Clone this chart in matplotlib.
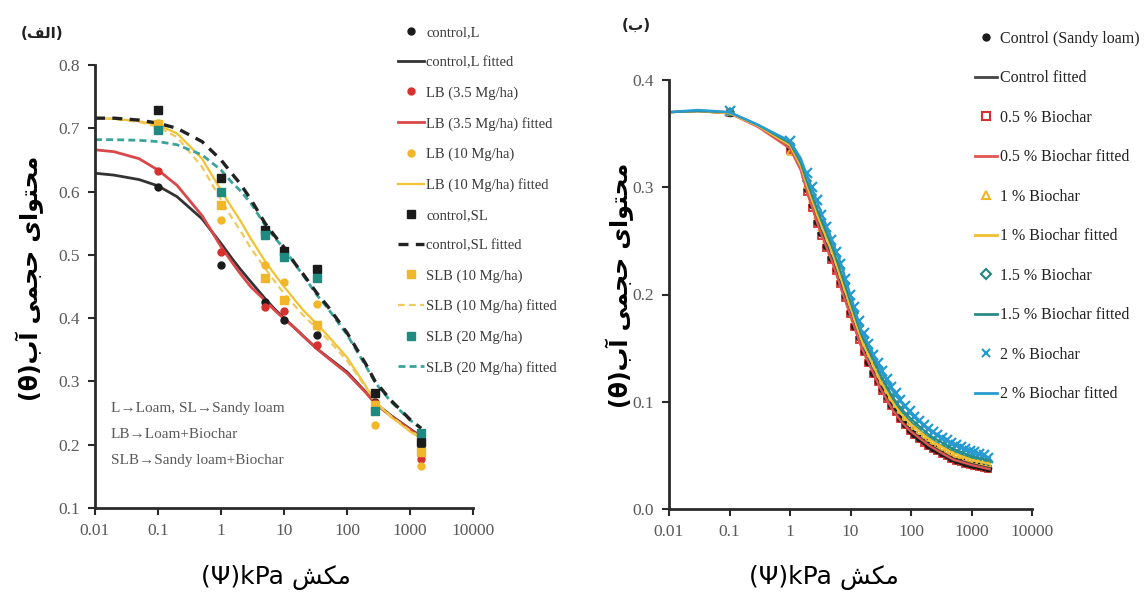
import matplotlib
matplotlib.use('Agg')
import matplotlib.pyplot as plt
from matplotlib.ticker import FixedLocator, FixedFormatter, NullLocator
from matplotlib.lines import Line2D

# ---- panel (a): loam / sandy loam with biochar, measured points ----
psi_a = [0.1, 1, 5, 10, 33, 280, 1500]
control_L = [0.608, 0.484, 0.426, 0.397, 0.373, 0.268, 0.195]
LB_35 = [0.632, 0.505, 0.418, 0.412, 0.357, 0.266, 0.178]
LB_10 = [0.708, 0.555, 0.484, 0.457, 0.423, 0.231, 0.167]
control_SL = [0.729, 0.621, 0.539, 0.506, 0.478, 0.281, 0.205]
SLB_10 = [0.706, 0.578, 0.463, 0.428, 0.389, 0.262, 0.189]
SLB_20 = [0.697, 0.600, 0.531, 0.497, 0.463, 0.254, 0.218]

# fitted retention curves, panel (a)
psi_a_fit = [0.01, 0.02, 0.05, 0.1, 0.2, 0.5, 1, 1.5, 2, 3, 5, 7, 10, 15, 20, 33, 50, 100, 200, 280, 500, 1000, 1500]
control_L_fit = [0.629, 0.626, 0.619, 0.609, 0.592, 0.557, 0.518, 0.494, 0.478, 0.457, 0.431, 0.415, 0.400, 0.384,
                 0.372, 0.352, 0.338, 0.315, 0.283, 0.266, 0.246, 0.225, 0.213]
LB_35_fit = [0.666, 0.663, 0.652, 0.634, 0.610, 0.562, 0.513, 0.488, 0.471, 0.449, 0.428, 0.413, 0.399, 0.384,
             0.372, 0.352, 0.337, 0.313, 0.282, 0.265, 0.245, 0.224, 0.212]
LB_10_fit = [0.716, 0.715, 0.711, 0.705, 0.692, 0.652, 0.602, 0.574, 0.555, 0.525, 0.490, 0.470, 0.450, 0.428,
             0.413, 0.391, 0.372, 0.338, 0.292, 0.268, 0.244, 0.221, 0.210]
control_SL_fit = [0.716, 0.716, 0.713, 0.708, 0.700, 0.679, 0.650, 0.628, 0.613, 0.587, 0.550, 0.531, 0.512, 0.486,
                  0.470, 0.440, 0.418, 0.377, 0.327, 0.300, 0.270, 0.240, 0.226]
SLB_10_fit = [0.716, 0.715, 0.710, 0.702, 0.686, 0.639, 0.587, 0.558, 0.539, 0.510, 0.479, 0.459, 0.439, 0.419,
              0.405, 0.384, 0.366, 0.333, 0.290, 0.267, 0.245, 0.222, 0.212]
SLB_20_fit = [0.682, 0.682, 0.681, 0.679, 0.674, 0.658, 0.634, 0.614, 0.602, 0.581, 0.547, 0.528, 0.510, 0.485,
              0.468, 0.437, 0.415, 0.374, 0.324, 0.298, 0.268, 0.239, 0.226]

# ---- panel (b): sandy loam with biochar rates, measured points ----
psi_b = [0.1, 1, 1.9, 2.3, 2.8, 3.3, 4, 4.8, 5.7, 6.8, 8.1, 9.7, 11.6, 13.8, 16.5, 19.7,
         23.5, 28, 33, 40, 47, 56, 67, 80, 95, 113, 135, 161, 192, 229, 273, 326, 389,
         464, 553, 660, 787, 939, 1120, 1336, 1594, 1900]
ctrl_b = [0.369, 0.337, 0.298, 0.283, 0.268, 0.257, 0.245, 0.234, 0.224, 0.212, 0.199, 0.184,
          0.171, 0.160, 0.147, 0.137, 0.127, 0.119, 0.112, 0.104, 0.097, 0.091, 0.085, 0.079,
          0.074, 0.070, 0.066, 0.063, 0.060, 0.057, 0.055, 0.052, 0.050, 0.048, 0.046, 0.045,
          0.043, 0.042, 0.041, 0.040, 0.039, 0.038]
bc05_b = [0.369, 0.335, 0.296, 0.281, 0.266, 0.255, 0.243, 0.232, 0.222, 0.210, 0.197, 0.182,
          0.170, 0.158, 0.146, 0.136, 0.126, 0.118, 0.110, 0.103, 0.096, 0.090, 0.084, 0.078,
          0.073, 0.069, 0.065, 0.062, 0.059, 0.056, 0.054, 0.051, 0.049, 0.047, 0.045, 0.044,
          0.042, 0.041, 0.040, 0.039, 0.038, 0.037]
bc1_b = [0.370, 0.333, 0.302, 0.288, 0.273, 0.262, 0.251, 0.240, 0.230, 0.218, 0.205, 0.191,
         0.178, 0.167, 0.154, 0.144, 0.134, 0.126, 0.119, 0.111, 0.104, 0.098, 0.092, 0.086,
         0.081, 0.077, 0.073, 0.069, 0.066, 0.063, 0.060, 0.058, 0.055, 0.053, 0.051, 0.050,
         0.048, 0.047, 0.045, 0.044, 0.043, 0.042]
bc15_b = [0.370, 0.340, 0.306, 0.293, 0.279, 0.267, 0.256, 0.245, 0.234, 0.223, 0.210, 0.196,
          0.183, 0.171, 0.159, 0.149, 0.139, 0.131, 0.124, 0.116, 0.109, 0.103, 0.097, 0.091,
          0.086, 0.082, 0.078, 0.074, 0.071, 0.068, 0.065, 0.062, 0.060, 0.058, 0.056, 0.054,
          0.052, 0.050, 0.049, 0.048, 0.046, 0.045]
bc2_b = [0.371, 0.343, 0.313, 0.300, 0.288, 0.274, 0.263, 0.251, 0.240, 0.228, 0.214, 0.200,
         0.188, 0.175, 0.164, 0.154, 0.144, 0.136, 0.129, 0.121, 0.114, 0.108, 0.102, 0.096,
         0.091, 0.086, 0.082, 0.078, 0.075, 0.072, 0.069, 0.066, 0.064, 0.062, 0.060, 0.058,
         0.056, 0.054, 0.053, 0.051, 0.050, 0.048]

# fitted retention curves, panel (b)
psi_b_fit = [0.01, 0.03, 0.1, 0.3, 1, 1.5, 2, 3, 5, 7, 10, 15, 20, 30, 50, 70, 100, 200, 300, 500, 1000, 2000]
ctrl_fit = [0.370, 0.371, 0.369, 0.357, 0.338, 0.318, 0.293, 0.264, 0.232, 0.207, 0.181, 0.152, 0.137, 0.115, 0.093, 0.082, 0.073, 0.060, 0.054, 0.047, 0.042, 0.038]
bc05_fit = [0.370, 0.371, 0.369, 0.356, 0.336, 0.316, 0.292, 0.262, 0.230, 0.205, 0.180, 0.151, 0.136, 0.114, 0.092, 0.081, 0.072, 0.059, 0.053, 0.046, 0.041, 0.037]
bc1_fit = [0.370, 0.371, 0.369, 0.357, 0.339, 0.320, 0.298, 0.270, 0.239, 0.214, 0.188, 0.158, 0.143, 0.121, 0.099, 0.088, 0.079, 0.065, 0.059, 0.052, 0.046, 0.042]
bc15_fit = [0.370, 0.371, 0.370, 0.358, 0.341, 0.323, 0.302, 0.275, 0.244, 0.220, 0.193, 0.163, 0.148, 0.127, 0.104, 0.093, 0.084, 0.069, 0.063, 0.056, 0.049, 0.045]
bc2_fit = [0.370, 0.372, 0.370, 0.358, 0.343, 0.327, 0.308, 0.282, 0.250, 0.228, 0.199, 0.167, 0.153, 0.133, 0.110, 0.099, 0.090, 0.074, 0.068, 0.061, 0.053, 0.048]

x_ticks = [0.01, 0.1, 1, 10, 100, 1000, 10000]
x_ticklabels = ['0.01', '0.1', '1', '10', '100', '1000', '10000']

# Persian labels: matplotlib does no Arabic shaping, so they are written
# with presentation forms in visual (left-to-right) order
ylab = '(\u03b8)\uFE8F\uFE81 \uFBFD\uFEE4\uFEA0\uFEA3 \uFBFC\uFE8D\uFEEE\uFE98\uFEA4\uFEE3'
xlab = '(\u03a8)kPa \uFEB6\uFB91\uFEE3'
tag_a = '(\uFED2\uFEDF\uFE8D)'
tag_b = '(\uFE8F)'

serif = ['Liberation Serif', 'DejaVu Serif']
grey = '#595959'

BLACK = '#1b1b1b'
RED = '#d8302e'
GOLD = '#f2b629'
TEAL = '#1f8a80'
BLUE = '#2399cf'

fig = plt.figure(figsize=(11.46, 5.97), dpi=100)
ax1 = fig.add_axes([95 / 1146, 89 / 597, 378 / 1146, 443 / 597])
ax2 = fig.add_axes([669 / 1146, 88 / 597, 363 / 1146, 429 / 597])


def style_axes(ax, ylim, yticks, yticklabels):
    ax.set_xscale('log')
    ax.set_xlim(0.01, 10000)
    ax.set_ylim(*ylim)
    ax.xaxis.set_major_locator(FixedLocator(x_ticks))
    ax.xaxis.set_major_formatter(FixedFormatter(x_ticklabels))
    ax.xaxis.set_minor_locator(NullLocator())
    ax.set_yticks(yticks)
    ax.set_yticklabels(yticklabels)
    for s in ['top', 'right']:
        ax.spines[s].set_visible(False)
    for s in ['left', 'bottom']:
        ax.spines[s].set_linewidth(2)
        ax.spines[s].set_color('#2a2a2a')
    ax.tick_params(direction='out', length=5, width=1.5, color='#2a2a2a',
                   labelcolor=grey, labelsize=12.5, pad=6)
    for lab in ax.get_xticklabels() + ax.get_yticklabels():
        lab.set_family(serif)
    ax.patch.set_alpha(0)


style_axes(ax1, (0.1, 0.8), [0.1, 0.2, 0.3, 0.4, 0.5, 0.6, 0.7, 0.8],
           ['0.1', '0.2', '0.3', '0.4', '0.5', '0.6', '0.7', '0.8'])
style_axes(ax2, (0.0, 0.4), [0.0, 0.1, 0.2, 0.3, 0.4],
           ['0.0', '0.1', '0.2', '0.3', '0.4'])

# panel (a) curves
ax1.plot(psi_a_fit, control_L_fit, color='#333333', lw=2)
ax1.plot(psi_a_fit, LB_35_fit, color='#d9474a', lw=2)
ax1.plot(psi_a_fit, LB_10_fit, color='#f1c232', lw=1.6)
ax1.plot(psi_a_fit, SLB_10_fit, color='#f1c85a', lw=1.6, ls=(0, (3, 2)))
ax1.plot(psi_a_fit, SLB_20_fit, color='#3aa39a', lw=2, ls=(0, (2.5, 1.5)))
ax1.plot(psi_a_fit, control_SL_fit, color='#222222', lw=2.4, ls=(0, (3, 2.2)))

ax1.plot(psi_a, control_L, 'o', color=BLACK, ms=5)
ax1.plot(psi_a, LB_35, 'o', color=RED, ms=5)
ax1.plot(psi_a, LB_10, 'o', color=GOLD, ms=5)
ax1.plot(psi_a, control_SL, 's', color=BLACK, ms=6)
ax1.plot(psi_a, SLB_10, 's', color=GOLD, ms=6)
ax1.plot(psi_a, SLB_20, 's', color=TEAL, ms=6)

# panel (b) curves
ax2.plot(psi_b, bc05_b, 's', mfc='none', mec=RED, mew=1.3, ms=5)
ax2.plot(psi_b, ctrl_b, 'o', color=BLACK, ms=4.5)
ax2.plot(psi_b, bc1_b, '^', mfc='none', mec=GOLD, mew=1.3, ms=5)
ax2.plot(psi_b, bc15_b, 'D', mfc='none', mec=TEAL, mew=1.2, ms=4.5)
ax2.plot(psi_b, bc2_b, 'x', color=BLUE, mew=1.6, ms=7)

ax2.plot(psi_b_fit, ctrl_fit, color='#444444', lw=1.6)
ax2.plot(psi_b_fit, bc05_fit, color='#e05555', lw=1.6)
ax2.plot(psi_b_fit, bc1_fit, color='#f0c030', lw=1.6)
ax2.plot(psi_b_fit, bc15_fit, color='#2a8c84', lw=1.6)
ax2.plot(psi_b_fit, bc2_fit, color='#2a9bd0', lw=1.8)

# legends
legA = [
    (Line2D([], [], ls='none', marker='o', color=BLACK, ms=5), 'control,L'),
    (Line2D([], [], color='#333333', lw=2), 'control,L fitted'),
    (Line2D([], [], ls='none', marker='o', color=RED, ms=5), 'LB (3.5 Mg/ha)'),
    (Line2D([], [], color='#d9474a', lw=2), 'LB (3.5 Mg/ha) fitted'),
    (Line2D([], [], ls='none', marker='o', color=GOLD, ms=5), 'LB (10 Mg/ha)'),
    (Line2D([], [], color='#f1c232', lw=1.6), 'LB (10 Mg/ha) fitted'),
    (Line2D([], [], ls='none', marker='s', color=BLACK, ms=6), 'control,SL'),
    (Line2D([], [], color='#222222', lw=2.4, ls=(0, (3, 2.2))), 'control,SL fitted'),
    (Line2D([], [], ls='none', marker='s', color=GOLD, ms=6), 'SLB (10 Mg/ha)'),
    (Line2D([], [], color='#f1c85a', lw=1.6, ls=(0, (3, 2))), 'SLB (10 Mg/ha) fitted'),
    (Line2D([], [], ls='none', marker='s', color=TEAL, ms=6), 'SLB (20 Mg/ha)'),
    (Line2D([], [], color='#3aa39a', lw=2, ls=(0, (2.5, 1.5))), 'SLB (20 Mg/ha) fitted'),
]
legB = [
    (Line2D([], [], ls='none', marker='o', color=BLACK, ms=5), 'Control (Sandy loam)'),
    (Line2D([], [], color='#444444', lw=2), 'Control fitted'),
    (Line2D([], [], ls='none', marker='s', mfc='none', mec=RED, mew=1.5, ms=6), '0.5 % Biochar'),
    (Line2D([], [], color='#e05555', lw=2), '0.5 % Biochar fitted'),
    (Line2D([], [], ls='none', marker='^', mfc='none', mec=GOLD, mew=1.5, ms=6), '1 % Biochar'),
    (Line2D([], [], color='#f0c030', lw=2), '1 % Biochar fitted'),
    (Line2D([], [], ls='none', marker='D', mfc='none', mec=TEAL, mew=1.5, ms=5), '1.5 % Biochar'),
    (Line2D([], [], color='#2a8c84', lw=2), '1.5 % Biochar fitted'),
    (Line2D([], [], ls='none', marker='x', color=BLUE, mew=1.5, ms=6), '2 % Biochar'),
    (Line2D([], [], color='#2a9bd0', lw=2), '2 % Biochar fitted'),
]

fig.legend([h for h, _ in legA], [l for _, l in legA], loc='upper left',
           bbox_to_anchor=(398 / 1146, 1 - 26 / 597), frameon=False,
           prop={'family': serif, 'size': 10.5}, labelcolor='#3a3a3a',
           handlelength=1.8, handletextpad=0.15, labelspacing=1.16,
           borderpad=0, borderaxespad=0)
fig.legend([h for h, _ in legB], [l for _, l in legB], loc='upper left',
           bbox_to_anchor=(975 / 1146, 1 - 31 / 597), frameon=False,
           prop={'family': serif, 'size': 11.5}, labelcolor='#222222',
           handlelength=1.4, handletextpad=0.15, labelspacing=1.47,
           borderpad=0, borderaxespad=0)

# abbreviation note inside panel (a)
ax1.text(0.042, 0.165, 'L\u2192Loam, SL\u2192Sandy loam\nLB\u2192Loam+Biochar\nSLB\u2192Sandy loam+Biochar',
         transform=ax1.transAxes, family=serif, size=11, color=grey,
         va='center', ha='left', linespacing=2.3)

# axis titles and panel tags
fig.text(30 / 1146, 1 - 278 / 597, ylab, rotation=90, ha='center', va='center',
         family='DejaVu Sans', weight='bold', size=17, color='black')
fig.text(620 / 1146, 1 - 285 / 597, ylab, rotation=90, ha='center', va='center',
         family='DejaVu Sans', weight='bold', size=17, color='black')
fig.text(276 / 1146, 1 - 577 / 597, xlab, ha='center', va='center',
         family='DejaVu Sans', size=18, color='black')
fig.text(824 / 1146, 1 - 577 / 597, xlab, ha='center', va='center',
         family='DejaVu Sans', size=18, color='black')
fig.text(42 / 1146, 1 - 33 / 597, tag_a, ha='center', va='center',
         family='DejaVu Sans', weight='bold', size=11, color='#222222')
fig.text(636 / 1146, 1 - 25 / 597, tag_b, ha='center', va='center',
         family='DejaVu Sans', weight='bold', size=11, color='#222222')

fig.savefig('out.png', dpi=100, facecolor='white')
